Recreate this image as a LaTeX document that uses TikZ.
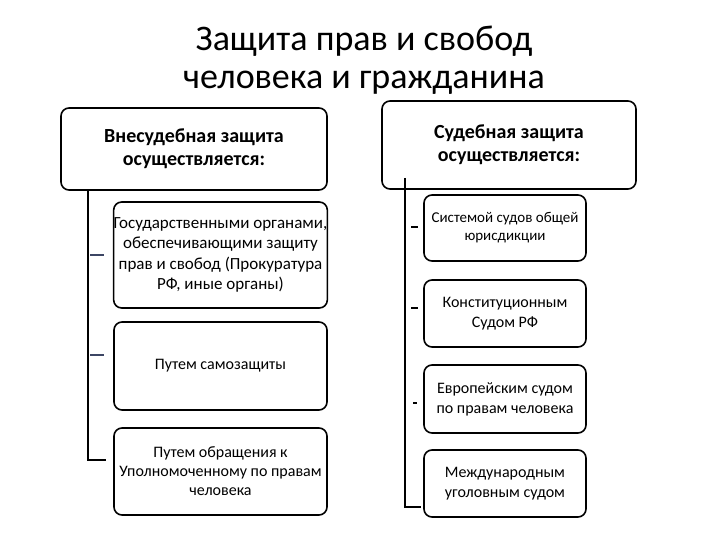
\documentclass[tikz,border=0pt]{standalone}
\usepackage{fontspec}
\setmainfont{Carlito}
\begin{document}
\begin{tikzpicture}[x=1pt,y=-1pt,
  box/.style={draw,line width=1.6pt,rounded corners=8pt,align=center,inner sep=0pt},
  ln/.style={line width=1.5pt},
  tick/.style={line width=1.3pt}]
\useasboundingbox[fill=white] (0,0) rectangle (720,540);
\node[align=center,font=\fontsize{36}{38}\selectfont] (title) at (364,60) {Защита прав и свобод\\человека и гражданина};
\node[box,minimum width=266pt,minimum height=82pt,font=\bfseries\fontsize{20}{23}\selectfont] (L) at (194,149) {Внесудебная защита\\осуществляется:};
\node[box,minimum width=213pt,minimum height=106pt,font=\fontsize{17}{20.5}\selectfont] (L1) at (220.5,255) {Государственными органами,\\обеспечивающими защиту\\прав и свобод (Прокуратура\\РФ, иные органы)};
\node[box,minimum width=213pt,minimum height=88pt,font=\fontsize{16}{19}\selectfont] (L2) at (220.5,366) {Путем самозащиты};
\node[box,minimum width=213pt,minimum height=87pt,font=\fontsize{16}{19}\selectfont] (L3) at (220.5,471.5) {Путем обращения к\\Уполномоченному по правам\\человека};
\node[box,minimum width=254pt,minimum height=88pt,font=\bfseries\fontsize{20}{23}\selectfont] (R) at (509,145) {Судебная защита\\осуществляется:};
\node[box,minimum width=162pt,minimum height=66pt,font=\fontsize{15}{18}\selectfont] (R1) at (505,228) {Системой судов общей\\юрисдикции};
\node[box,minimum width=162pt,minimum height=67pt,font=\fontsize{16}{20}\selectfont] (R2) at (505,313.5) {Конституционным\\Судом РФ};
\node[box,minimum width=162pt,minimum height=68pt,font=\fontsize{16}{20}\selectfont] (R3) at (505,399) {Европейским судом\\по правам человека};
\node[box,minimum width=162pt,minimum height=67pt,font=\fontsize{16}{20}\selectfont] (R4) at (505,483.5) {Международным\\уголовным судом};
\coordinate (lt) at (88,190);
\coordinate (lb) at (88,460);
\coordinate (le) at (106,460);
\draw[ln] (lt) -- (lb) -- (le);
\coordinate (t1a) at (90,255); \coordinate (t1b) at (104,255);
\coordinate (t2a) at (90,355); \coordinate (t2b) at (104,355);
\draw[tick,draw={rgb,255:red,60;green,70;blue,100}] (t1a) -- (t1b) (t2a) -- (t2b);
\coordinate (rt) at (405,178);
\coordinate (rb) at (405,507);
\coordinate (re) at (421,507);
\draw[ln] (rt) -- (rb) -- (re);
\coordinate (d1a) at (411,227); \coordinate (d1b) at (418,227);
\coordinate (d2a) at (411,308); \coordinate (d2b) at (418,308);
\coordinate (d3a) at (413,403); \coordinate (d3b) at (417,403);
\draw[tick] (d1a) -- (d1b) (d2a) -- (d2b) (d3a) -- (d3b);
\end{tikzpicture}
\end{document}
